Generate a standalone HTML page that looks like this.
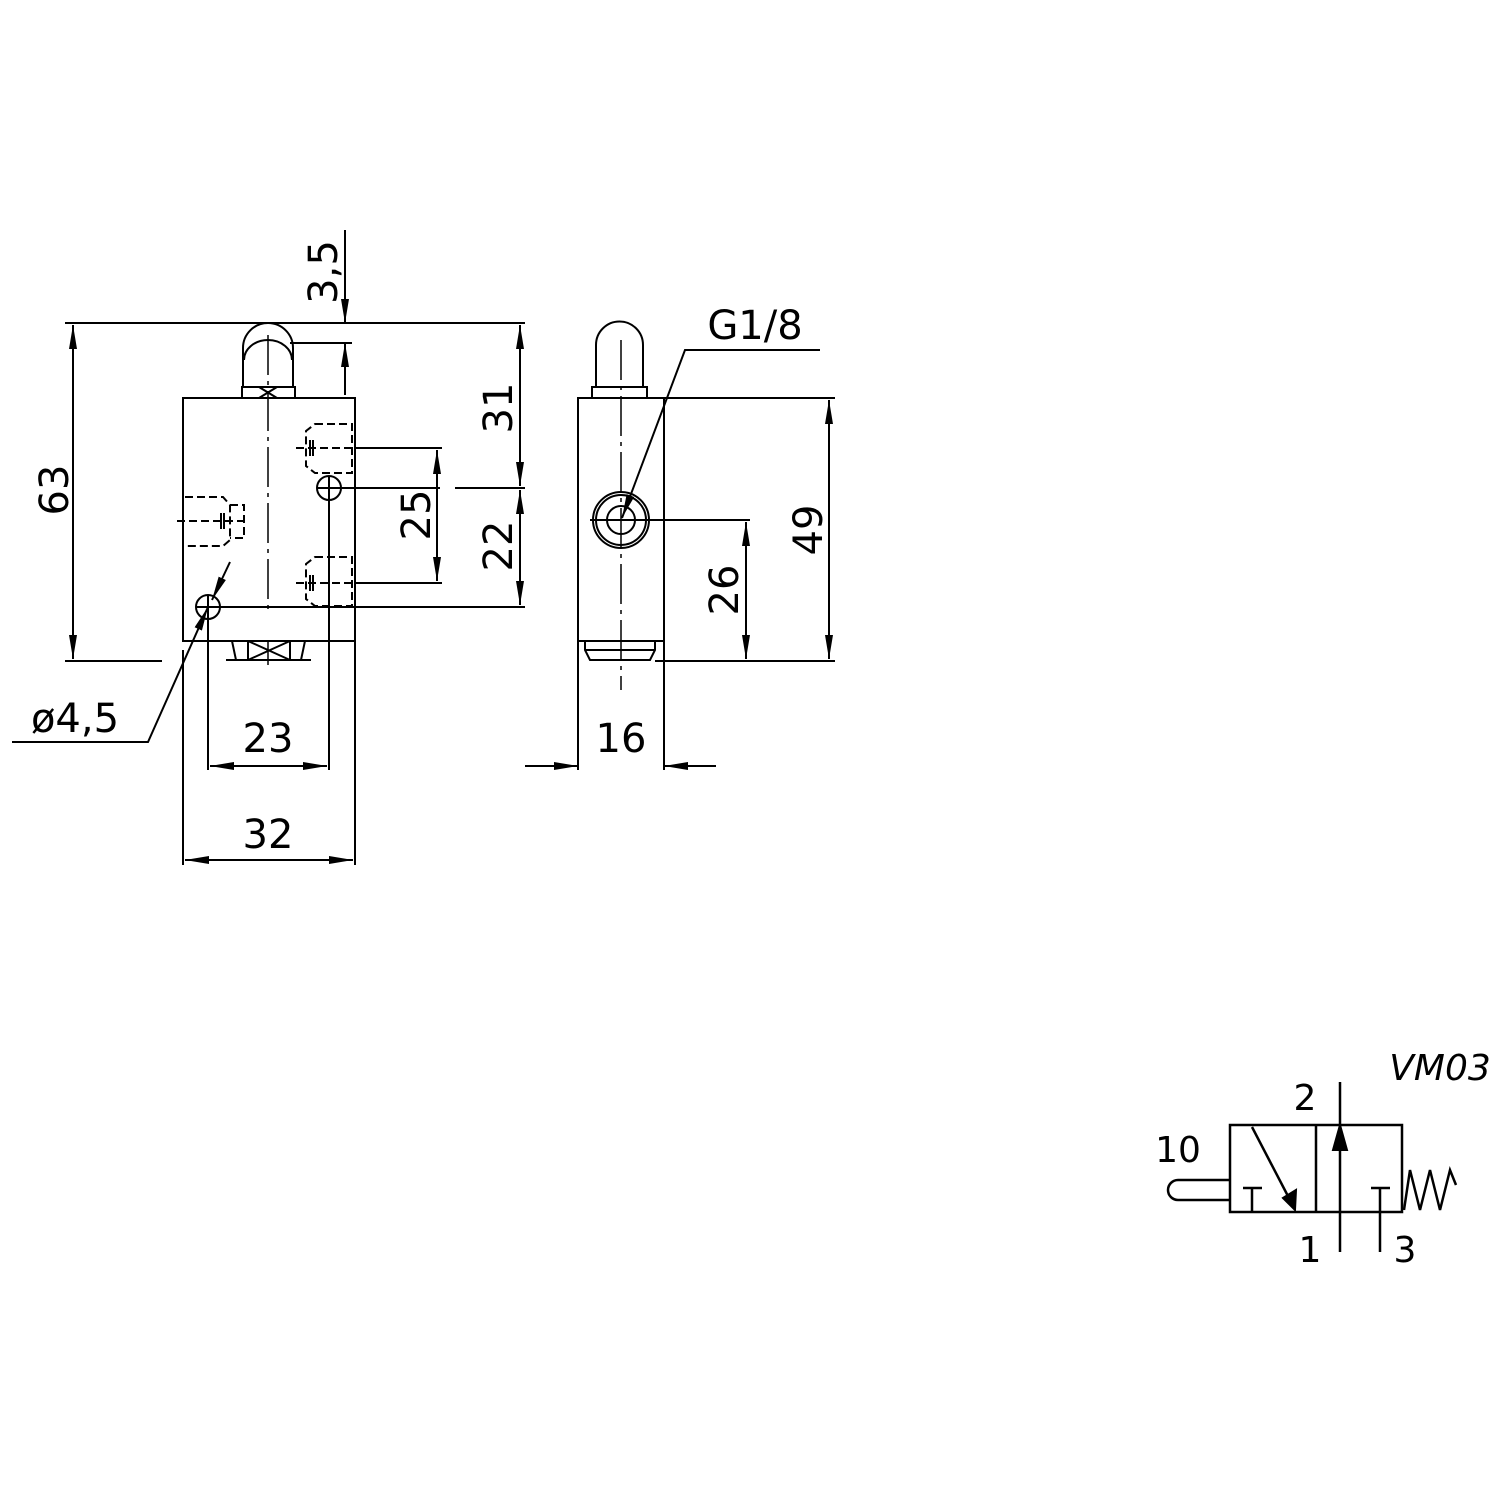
<!DOCTYPE html>
<html><head><style>body{margin:0;background:#fff}svg{display:block}</style></head><body>
<svg width="1500" height="1500" viewBox="0 0 1500 1500" xmlns="http://www.w3.org/2000/svg">
<defs>
<marker id="a" viewBox="0 0 24 8" refX="24" refY="4" markerWidth="24" markerHeight="8" orient="auto-start-reverse" markerUnits="userSpaceOnUse"><path d="M0,0 L24,4 L0,8 z" fill="#000"/></marker>
</defs>
<g stroke="#000" stroke-width="2" fill="none" font-family="'DejaVu Sans','Liberation Sans',sans-serif">
<!-- front view body -->
<rect x="183" y="398" width="172" height="243"/>
<path d="M243,387 V348 A25,25 0 0 1 293,348 V387"/>
<path d="M244,360 A24,20 0 0 1 292,360" />
<rect x="242" y="387" width="53" height="11"/>
<path d="M259,387 L277,398 M277,387 L259,398"/>
<path d="M232,641 L236,660 H301 L305,641 M236,660 H226 M301,660 H311 M248,641 V660 M290,641 V660 M248,641 L290,660 M290,641 L248,660"/>
<path d="M268,335 V610" stroke-dasharray="40,6,4,6" stroke-width="1.5"/>
<path d="M268,641 V665" stroke-width="1.5"/>
<!-- hidden ports -->
<g stroke-dasharray="8,4" stroke-width="2">
<path d="M315,424 H352 V473 H315 L306,466 V431 Z"/>
<path d="M315,557 H352 V606 H315 L306,599 V564 Z"/>
<path d="M185,497 H223 L230,505 V540 L223,546 H185"/>
<path d="M230,505 H244 V538 H230"/>
<path d="M296,448 H360 M296,583 H360 M177,521 H245"/>
</g>
<path d="M310,440 V456 M313,440 V456 M310,575 V591 M313,575 V591 M221,513 V529 M224,513 V529"/>
<!-- holes -->
<circle cx="329" cy="488" r="12"/><circle cx="208" cy="607" r="12"/>
<path d="M329,476 V770 M317,488 H440"/>
<path d="M196,607 H525 M208,595 V770"/>
<!-- 63 -->
<path d="M65,323 H525 M65,661 H162"/>
<path d="M73,325 V659" marker-start="url(#a)" marker-end="url(#a)"/>
<!-- 3,5 -->
<path d="M290,343 H352"/>
<path d="M345,230 V323" marker-end="url(#a)"/>
<path d="M345,395 V343" marker-end="url(#a)"/>
<!-- 31 / 22 -->
<path d="M455,488 H525"/>
<path d="M520,325 V486" marker-start="url(#a)" marker-end="url(#a)"/>
<path d="M520,490 V605" marker-start="url(#a)" marker-end="url(#a)"/>
<!-- 25 -->
<path d="M355,448 H442 M355,583 H442"/>
<path d="M437,450 V581" marker-start="url(#a)" marker-end="url(#a)"/>
<!-- 23, 32 -->
<path d="M210,766 H327" marker-start="url(#a)" marker-end="url(#a)"/>
<path d="M183,650 V865 M355,641 V865"/>
<path d="M185,860 H353" marker-start="url(#a)" marker-end="url(#a)"/>
<!-- dia leader -->
<path d="M12,742 H148 L208,607" marker-end="url(#a)"/>
<path d="M230,562 L212,600" marker-end="url(#a)"/>
<!-- side view -->
<rect x="578" y="398" width="86" height="243"/>
<path d="M596,387 V345 A23.5,23.5 0 0 1 643,345 V387"/>
<rect x="592" y="387" width="55" height="11"/>
<path d="M585,641 V650 L590,660 H650 L655,650 V641 M585,650 H655"/>
<path d="M621,340 V690" stroke-dasharray="40,6,4,6" stroke-width="1.5"/>
<circle cx="621" cy="520" r="28"/><circle cx="621" cy="520" r="25"/><circle cx="621" cy="520" r="14"/>
<path d="M590,520 H750"/>
<path d="M655,661 H835 M664,398 H835"/>
<path d="M829,400 V659" marker-start="url(#a)" marker-end="url(#a)"/>
<path d="M746,522 V659" marker-start="url(#a)" marker-end="url(#a)"/>
<path d="M578,641 V770 M664,641 V770"/>
<path d="M525,766 H578" marker-end="url(#a)"/>
<path d="M716,766 H664" marker-end="url(#a)"/>
<path d="M820,350 H685 L622,518" marker-end="url(#a)"/>
<!-- symbol -->
<rect x="1230" y="1125" width="172" height="87" stroke-width="2.5"/>
<path d="M1316,1125 V1212" stroke-width="2.5"/>
<path d="M1340,1082 V1252" stroke-width="2.5"/>
<path d="M1333,1150 L1340,1125 L1347,1150 Z" fill="#000"/>
<path d="M1252,1127 L1290,1200" stroke-width="2.5"/>
<path d="M1283,1198 L1295,1210 L1296,1190 Z" fill="#000"/>
<path d="M1243,1188 H1262 M1252,1188 V1212 M1371,1188 H1390 M1380,1188 V1252" stroke-width="2.5"/>
<path d="M1404,1210 L1410,1170 L1420,1210 L1430,1170 L1440,1210 L1450,1170 L1456,1185" stroke-width="2.5"/>
<path d="M1230,1180 H1178 A10,10 0 0 0 1178,1200 H1230" stroke-width="2.5"/>
</g>
<g font-family="'DejaVu Sans','Liberation Sans',sans-serif" font-size="40" fill="#000" text-anchor="middle">
<text transform="translate(68,490) rotate(-90)">63</text>
<text transform="translate(337,272) rotate(-90)">3,5</text>
<text transform="translate(512,408) rotate(-90)">31</text>
<text transform="translate(512,546) rotate(-90)">22</text>
<text transform="translate(430,515) rotate(-90)">25</text>
<text transform="translate(822,530) rotate(-90)">49</text>
<text transform="translate(738,590) rotate(-90)">26</text>
<text x="268" y="752">23</text>
<text x="268" y="848">32</text>
<text x="621" y="752">16</text>
<text x="755" y="339">G1/8</text>
<text x="75" y="732">ø4,5</text>
<g font-size="36">
<text x="1305" y="1110">2</text>
<text x="1178" y="1162">10</text>
<text x="1310" y="1262">1</text>
<text x="1405" y="1262">3</text>
<text x="1440" y="1080" font-style="italic">VM03</text>
</g>
</g>
</svg>
</body></html>
